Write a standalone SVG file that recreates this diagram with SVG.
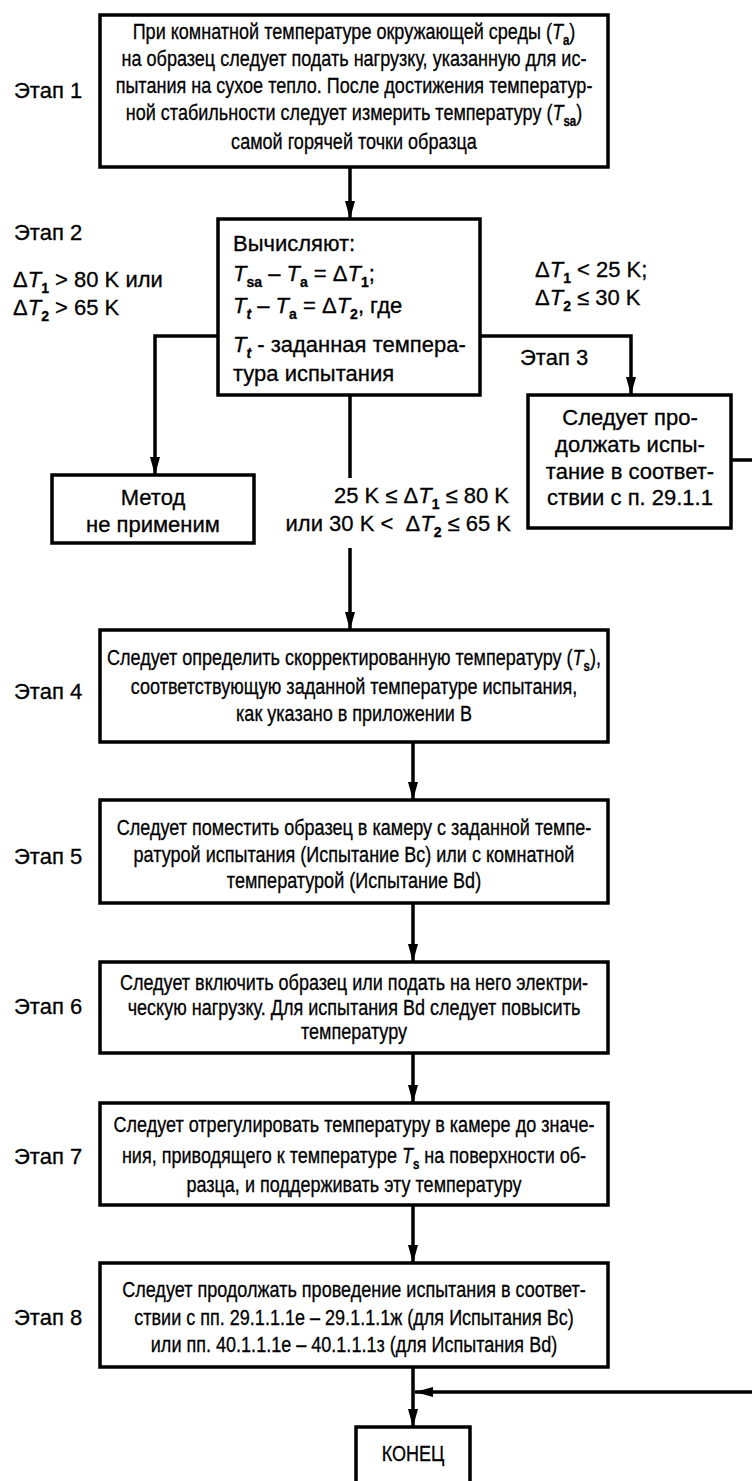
<svg xmlns="http://www.w3.org/2000/svg" width="752" height="1481" viewBox="0 0 752 1481">
<defs>
<marker id="arr" markerUnits="userSpaceOnUse" markerWidth="18" markerHeight="10" refX="18" refY="5" orient="auto">
<path d="M0,0 L18,5 L0,10 z" fill="#000"/>
</marker>
<style>
.box{fill:#fff;stroke:#000;stroke-width:3.5}
.ln{fill:none;stroke:#000;stroke-width:3.5}
text{font-family:"Liberation Sans",Arial,sans-serif;font-size:22px;fill:#000;stroke:#000;stroke-width:0.3}
.c{text-anchor:middle}
.e{text-anchor:end}
.i{font-style:italic}
.s{font-size:14px;font-weight:bold}
</style>
</defs>
<rect width="752" height="1481" fill="#fff"/>

<g id="connectors">
<line class="ln" x1="350" y1="167" x2="350" y2="219" marker-end="url(#arr)"/>
<polyline class="ln" points="218,336 155,336 155,475" marker-end="url(#arr)"/>
<polyline class="ln" points="480,336 631,336 631,395" marker-end="url(#arr)"/>
<line class="ln" x1="350" y1="395" x2="350" y2="478"/>
<line class="ln" x1="350" y1="548" x2="350" y2="630" marker-end="url(#arr)"/>
<line class="ln" x1="413" y1="742" x2="413" y2="800" marker-end="url(#arr)"/>
<line class="ln" x1="413" y1="903" x2="413" y2="962" marker-end="url(#arr)"/>
<line class="ln" x1="413" y1="1053" x2="413" y2="1103" marker-end="url(#arr)"/>
<line class="ln" x1="413" y1="1205" x2="413" y2="1263" marker-end="url(#arr)"/>
<line class="ln" x1="413" y1="1367" x2="413" y2="1427" marker-end="url(#arr)"/>
<polyline class="ln" points="731,460 762,460 762,1392 415,1392" marker-end="url(#arr)"/>
</g>

<g id="labels">
<text x="14" y="98">Этап 1</text>
<text x="14" y="240">Этап 2</text>
<text x="13" y="287">Δ<tspan class="i">T</tspan><tspan class="s" dy="6">1</tspan><tspan dy="-6"> &gt; 80 K или</tspan></text>
<text x="13" y="315">Δ<tspan class="i">T</tspan><tspan class="s" dy="6">2</tspan><tspan dy="-6"> &gt; 65 K</tspan></text>
<text x="535" y="277">Δ<tspan class="i">T</tspan><tspan class="s" dy="6">1</tspan><tspan dy="-6"> &lt; 25 K;</tspan></text>
<text x="535" y="305">Δ<tspan class="i">T</tspan><tspan class="s" dy="6">2</tspan><tspan dy="-6"> ≤ 30 K</tspan></text>
<text x="520" y="365">Этап 3</text>
<text class="e" x="509" y="503">25 K ≤ Δ<tspan class="i">T</tspan><tspan class="s" dy="6">1</tspan><tspan dy="-6"> ≤ 80 K</tspan></text>
<text class="e" x="511" y="531" xml:space="preserve">или 30 K &lt;  Δ<tspan class="i">T</tspan><tspan class="s" dy="6">2</tspan><tspan dy="-6"> ≤ 65 K</tspan></text>
<text x="14" y="699">Этап 4</text>
<text x="14" y="864">Этап 5</text>
<text x="14" y="1014">Этап 6</text>
<text x="14" y="1164">Этап 7</text>
<text x="14" y="1325">Этап 8</text>
</g>

<g id="step1">
<rect class="box" x="100" y="15" width="508" height="152"/>
<g transform="translate(354 0) scale(0.82 1)">
<text class="c" x="0" y="39">При комнатной температуре окружающей среды (<tspan class="i">T</tspan><tspan class="s" dy="6">a</tspan><tspan dy="-6">)</tspan></text>
<text class="c" x="0" y="66">на образец следует подать нагрузку, указанную для ис-</text>
<text class="c" x="0" y="93">пытания на сухое тепло. После достижения температур-</text>
<text class="c" x="0" y="120">ной стабильности следует измерить температуру (<tspan class="i">T</tspan><tspan class="s" dy="6">sa</tspan><tspan dy="-6">)</tspan></text>
<text class="c" x="0" y="149">самой горячей точки образца</text>
</g>
</g>

<g id="step2">
<rect class="box" x="218" y="219" width="262" height="176"/>
<text x="233" y="251">Вычисляют:</text>
<text x="233" y="281"><tspan class="i">T</tspan><tspan class="s" dy="6">sa</tspan><tspan dy="-6"> – </tspan><tspan class="i">T</tspan><tspan class="s" dy="6">a</tspan><tspan dy="-6"> = Δ</tspan><tspan class="i">T</tspan><tspan class="s" dy="6">1</tspan><tspan dy="-6">;</tspan></text>
<text x="233" y="313"><tspan class="i">T</tspan><tspan class="s i" dy="6">t</tspan><tspan dy="-6"> – </tspan><tspan class="i">T</tspan><tspan class="s" dy="6">a</tspan><tspan dy="-6"> = Δ</tspan><tspan class="i">T</tspan><tspan class="s" dy="6">2</tspan><tspan dy="-6">, где</tspan></text>
<text x="233" y="352"><tspan class="i">T</tspan><tspan class="s i" dy="6">t</tspan><tspan dy="-6"> - заданная темпера-</tspan></text>
<text x="233" y="381">тура испытания</text>
</g>

<g id="notapplicable">
<rect class="box" x="52" y="475" width="202" height="68"/>
<text class="c" x="153" y="505">Метод</text>
<text class="c" x="153" y="532">не применим</text>
</g>

<g id="step3">
<rect class="box" x="528" y="395" width="203" height="133"/>
<text class="c" x="630" y="425">Следует про-</text>
<text class="c" x="630" y="452">должать испы-</text>
<text class="c" x="630" y="479">тание в соответ-</text>
<text class="c" x="630" y="505">ствии с п. 29.1.1</text>
</g>

<g id="step4">
<rect class="box" x="100" y="630" width="508" height="112"/>
<g transform="translate(354 0) scale(0.82 1)">
<text class="c" x="0" y="665">Следует определить скорректированную температуру (<tspan class="i">T</tspan><tspan class="s" dy="6">s</tspan><tspan dy="-6">),</tspan></text>
<text class="c" x="0" y="694">соответствующую заданной температуре испытания,</text>
<text class="c" x="0" y="721">как указано в приложении В</text>
</g>
</g>

<g id="step5">
<rect class="box" x="100" y="800" width="508" height="103"/>
<g transform="translate(354 0) scale(0.82 1)">
<text class="c" x="0" y="835">Следует поместить образец в камеру с заданной темпе-</text>
<text class="c" x="0" y="862">ратурой испытания (Испытание Вс) или с комнатной</text>
<text class="c" x="0" y="888">температурой (Испытание Bd)</text>
</g>
</g>

<g id="step6">
<rect class="box" x="100" y="962" width="508" height="91"/>
<g transform="translate(354 0) scale(0.82 1)">
<text class="c" x="0" y="990">Следует включить образец или подать на него электри-</text>
<text class="c" x="0" y="1015">ческую нагрузку. Для испытания Bd следует повысить</text>
<text class="c" x="0" y="1039">температуру</text>
</g>
</g>

<g id="step7">
<rect class="box" x="100" y="1103" width="508" height="102"/>
<g transform="translate(354 0) scale(0.82 1)">
<text class="c" x="0" y="1132">Следует отрегулировать температуру в камере до значе-</text>
<text class="c" x="0" y="1163">ния, приводящего к температуре <tspan class="i">T</tspan><tspan class="s" dy="6">s</tspan><tspan dy="-6"> на поверхности об-</tspan></text>
<text class="c" x="0" y="1192">разца, и поддерживать эту температуру</text>
</g>
</g>

<g id="step8">
<rect class="box" x="100" y="1263" width="508" height="104"/>
<g transform="translate(354 0) scale(0.82 1)">
<text class="c" x="0" y="1297">Следует продолжать проведение испытания в соответ-</text>
<text class="c" x="0" y="1325">ствии с пп. 29.1.1.1е – 29.1.1.1ж (для Испытания Вс)</text>
<text class="c" x="0" y="1352">или пп. 40.1.1.1е – 40.1.1.1з (для Испытания Bd)</text>
</g>
</g>

<g id="end">
<rect class="box" x="356" y="1427" width="114" height="70"/>
<g transform="translate(413 0) scale(0.82 1)">
<text class="c" x="0" y="1461">КОНЕЦ</text>
</g>
</g>
</svg>
